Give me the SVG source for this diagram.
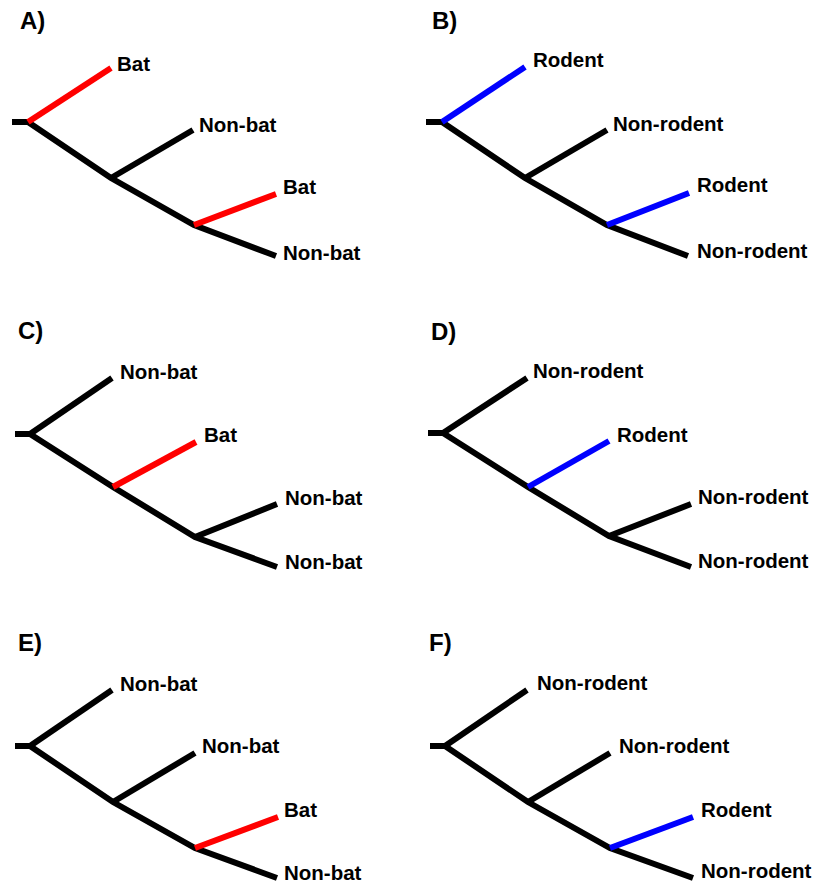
<svg xmlns="http://www.w3.org/2000/svg" width="815" height="884" viewBox="0 0 815 884">
<style>
.e{fill:none;stroke:#000;stroke-width:6;stroke-linecap:butt;stroke-linejoin:miter}
.r{stroke:#ff0000}
.b{stroke:#0000ff}
.t{font-family:"Liberation Sans",Arial,sans-serif;font-weight:bold;font-size:20.5px;fill:#000}
.p{font-family:"Liberation Sans",Arial,sans-serif;font-weight:bold;font-size:24px;fill:#000}
</style>
<rect width="815" height="884" fill="#fff"/>
<g id="connectors">
  <!-- A -->
  <path class="e" d="M12,122 H30"/>
  <path class="e" d="M28,122 L111,178 L194,225 L276,256"/>
  <path class="e" d="M111,178 L193,130"/>
  <path class="e r" d="M28,122 L111,68"/>
  <path class="e r" d="M194,225 L276,194"/>
  <!-- B -->
  <path class="e" d="M426,122 H444"/>
  <path class="e" d="M442,122 L525,178 L607,225 L688,256"/>
  <path class="e" d="M525,178 L607,130"/>
  <path class="e b" d="M442,122 L525,67"/>
  <path class="e b" d="M607,225 L689,193"/>
  <!-- C -->
  <path class="e" d="M15,434 H32"/>
  <path class="e" d="M30,434 L113,487 L195,537 L277,567"/>
  <path class="e" d="M30,434 L112,378"/>
  <path class="e" d="M195,537 L277,504"/>
  <path class="e r" d="M113,487 L196,442"/>
  <!-- D -->
  <path class="e" d="M428,433 H445"/>
  <path class="e" d="M443,433 L528,487 L609,536 L691,567"/>
  <path class="e" d="M443,433 L527,378"/>
  <path class="e" d="M609,536 L691,504"/>
  <path class="e b" d="M528,487 L609,441"/>
  <!-- E -->
  <path class="e" d="M15,746 H32"/>
  <path class="e" d="M30,746 L113,802 L195,848 L277,878"/>
  <path class="e" d="M30,746 L112,690"/>
  <path class="e" d="M113,802 L195,753"/>
  <path class="e r" d="M195,848 L278,817"/>
  <!-- F -->
  <path class="e" d="M430,746 H447"/>
  <path class="e" d="M445,746 L528,802 L610,848 L693,878"/>
  <path class="e" d="M445,746 L527,690"/>
  <path class="e" d="M528,802 L610,753"/>
  <path class="e b" d="M610,848 L693,817"/>
</g>
<g id="panelA">
  <text class="p" x="20" y="29">A)</text>
  <text class="t" x="117" y="71">Bat</text>
  <text class="t" x="199" y="132">Non-bat</text>
  <text class="t" x="283" y="194">Bat</text>
  <text class="t" x="283" y="260">Non-bat</text>
</g>
<g id="panelB">
  <text class="p" x="432" y="29">B)</text>
  <text class="t" x="533" y="67">Rodent</text>
  <text class="t" x="613" y="131">Non-rodent</text>
  <text class="t" x="697" y="192">Rodent</text>
  <text class="t" x="697" y="258">Non-rodent</text>
</g>
<g id="panelC">
  <text class="p" x="18" y="339">C)</text>
  <text class="t" x="120" y="379">Non-bat</text>
  <text class="t" x="204" y="442">Bat</text>
  <text class="t" x="285" y="505">Non-bat</text>
  <text class="t" x="285" y="569">Non-bat</text>
</g>
<g id="panelD">
  <text class="p" x="431" y="340">D)</text>
  <text class="t" x="533" y="378">Non-rodent</text>
  <text class="t" x="617" y="442">Rodent</text>
  <text class="t" x="698" y="504">Non-rodent</text>
  <text class="t" x="698" y="568">Non-rodent</text>
</g>
<g id="panelE">
  <text class="p" x="18" y="651">E)</text>
  <text class="t" x="120" y="691">Non-bat</text>
  <text class="t" x="202" y="753">Non-bat</text>
  <text class="t" x="284" y="817">Bat</text>
  <text class="t" x="284" y="880">Non-bat</text>
</g>
<g id="panelF">
  <text class="p" x="429" y="651">F)</text>
  <text class="t" x="537" y="690">Non-rodent</text>
  <text class="t" x="619" y="753">Non-rodent</text>
  <text class="t" x="701" y="817">Rodent</text>
  <text class="t" x="701" y="878">Non-rodent</text>
</g>
</svg>
